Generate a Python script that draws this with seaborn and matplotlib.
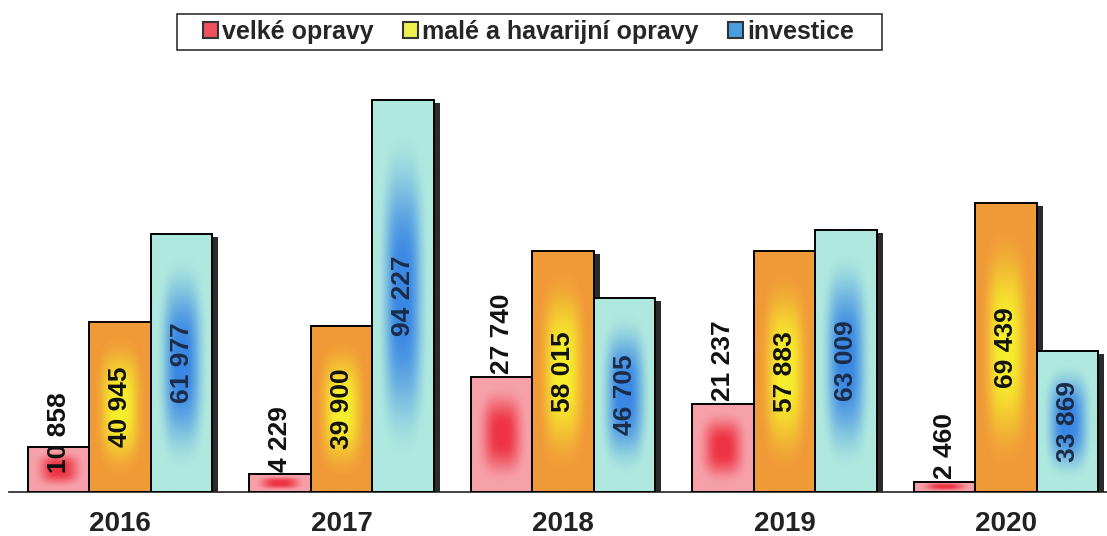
import numpy as np
import pandas as pd
import matplotlib
matplotlib.use("Agg")
import matplotlib.pyplot as plt
import matplotlib.transforms as mtransforms
from matplotlib.patches import Rectangle, Patch
import seaborn as sns

years = ["2016", "2017", "2018", "2019", "2020"]
series = ["velké opravy", "malé a havarijní opravy", "investice"]
velke_opravy = [10858, 4229, 27740, 21237, 2460]
male_opravy = [40945, 39900, 58015, 57883, 69439]
investice = [61977, 94227, 46705, 63009, 33869]

# gradient colours (centre, edge) and legend colours
grad_centre = ["#ee3444", "#f6ee2c", "#3a88e4"]
grad_edge = ["#f6a0a8", "#f09a38", "#aee8de"]
legend_cols = ["#f0505e", "#eef050", "#4a9ee0"]
label_cols = ["#111111", "#111111", "#1c2c48"]

df = pd.DataFrame({
    "rok": years * 3,
    "typ": [s for s in series for _ in years],
    "hodnota": velke_opravy + male_opravy + investice,
})

sns.set_style("white")
plt.rcParams["font.family"] = ["Liberation Sans", "DejaVu Sans"]

fig = plt.figure(figsize=(11.07, 5.36), dpi=100)
ax = fig.add_axes([0.0084, 0.082, 1.0005, 0.806])

sns.barplot(data=df, x="rok", y="hodnota", hue="typ", hue_order=series,
            width=0.833, legend=False, ax=ax, edgecolor="black", linewidth=1.4)


def gradient(c0, c1, n=160):
    yy, xx = np.mgrid[-1:1:n * 1j, -1:1:n * 1j]
    t = (np.abs(xx) ** 3 + np.abs(yy) ** 3) ** (1 / 3)
    w = np.clip((t - 0.15) / 0.7, 0, 1)
    w = w * w * (3 - 2 * w)
    a = np.array(matplotlib.colors.to_rgb(c0))
    b = np.array(matplotlib.colors.to_rgb(c1))
    return a * (1 - w)[..., None] + b * w[..., None]


shadow_tr = ax.transData + mtransforms.ScaledTranslation(6 / 100, -3 / 100, fig.dpi_scale_trans)

for i, cont in enumerate(ax.containers):
    for j, bar in enumerate(cont.patches):
        x0, w, h = bar.get_x(), bar.get_width(), bar.get_height()
        bar.set_facecolor("none")
        bar.set_zorder(4)
        sh = Rectangle((x0, 0), w, h, facecolor="#2b2b2b", edgecolor="none",
                       transform=shadow_tr, zorder=1)
        ax.add_patch(sh)
        im = ax.imshow(gradient(grad_centre[i], grad_edge[i]), extent=(x0, x0 + w, 0, h),
                       aspect="auto", interpolation="bilinear", origin="lower", zorder=2 + 0.01 * i)
        im.set_clip_path(bar)
        txt = f"{int(round(h)):,}".replace(",", " ")
        xc = x0 + w / 2
        if i == 0:
            dy = -19 if j == 0 else 2
            ax.annotate(txt, (xc, h), xytext=(0, dy), textcoords="offset points",
                        rotation=90, ha="center", va="bottom", fontsize=19,
                        fontweight="bold", color=label_cols[i], zorder=6)
        else:
            ax.text(xc, h / 2, txt, rotation=90, ha="center", va="center", fontsize=19,
                    fontweight="bold", color=label_cols[i], zorder=6)

ax.set_xlim(-0.5, 4.5)
ax.set_ylim(0, 103840)
ax.set_yticks([])
ax.set_xlabel("")
ax.set_ylabel("")
for s in ["left", "top", "right"]:
    ax.spines[s].set_visible(False)
ax.spines["bottom"].set_linewidth(1.2)
ax.spines["bottom"].set_color("#222222")
ax.set_xticks(range(len(years)))
ax.set_xticklabels(years, fontsize=20, fontweight="bold", color="#222222")
ax.set_xticks(np.arange(-0.5, 5, 1), minor=True)
ax.tick_params(axis="x", which="major", length=0, pad=14)
ax.tick_params(axis="x", which="minor", length=8, width=1.2, color="#222222", direction="out")

handles = [Patch(facecolor=c, edgecolor="#333333", linewidth=1.5) for c in legend_cols]
leg = fig.legend(handles, series, loc="center", bbox_to_anchor=(0.4774, 0.94), ncol=3,
                 frameon=False, prop={"weight": "bold", "size": 18},
                 handlelength=0.6, handleheight=0.6, handletextpad=0.15,
                 columnspacing=1.2, borderpad=0.25)
# legend box, wider than the default frame
fig.patches.append(Rectangle((0.160, 0.907), 0.637, 0.067, transform=fig.transFigure,
                             facecolor="white", edgecolor="#333333", linewidth=1.2, zorder=0))

fig.savefig("out.png", dpi=100)
